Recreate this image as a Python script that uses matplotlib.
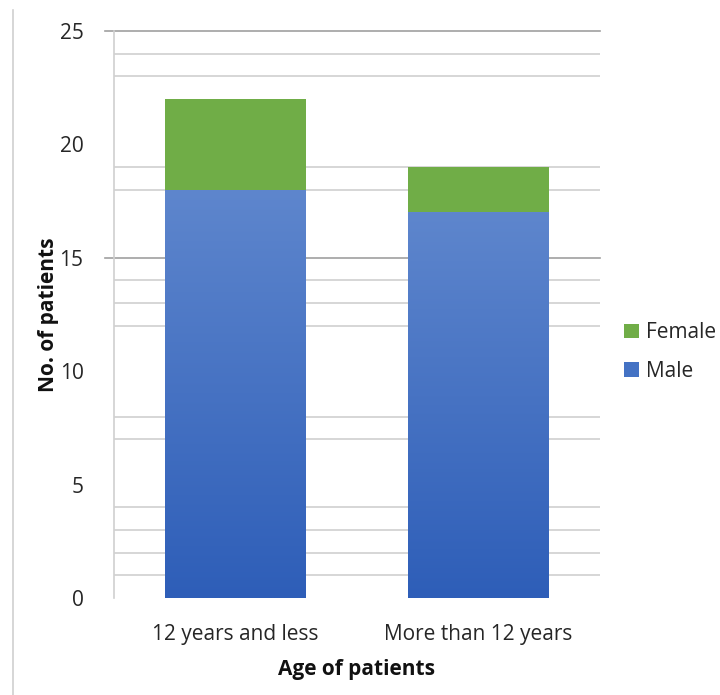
import matplotlib
matplotlib.use("Agg")
import matplotlib.pyplot as plt
import numpy as np
from matplotlib.lines import Line2D
from matplotlib.patches import Patch

categories = ["12 years and less", "More than 12 years"]
male = [18, 17]
female = [4, 2]
yticks = [0, 5, 10, 15, 20, 25]
minor_grid = [1, 2, 3, 4, 7, 8, 12, 13, 14, 18, 19, 23, 24]
major_grid = [15, 25]

plt.rcParams['font.family'] = ['Open Sans', 'DejaVu Sans']

fig = plt.figure(figsize=(7.2, 6.95), dpi=100)
ax = fig.add_axes([114/720, 1-598/695, (600-114)/720, (598-31)/695])

x = np.arange(len(categories))
width = 0.58
green = "#70AD47"
top_blue = np.array([0x5E, 0x86, 0xCD]) / 255
bot_blue = np.array([0x2E, 0x5E, 0xB8]) / 255

for v in minor_grid:
    ax.axhline(v, color="#D0D0D0", lw=1.2, zorder=0)
for v in major_grid:
    ax.plot([-0.018, 1], [v, v], transform=ax.get_yaxis_transform(),
            color="#A0A0A0", lw=1.2, zorder=0, clip_on=False)

bars_m = ax.bar(x, male, width, color="#4472C4", zorder=2, label="Male")
bars_f = ax.bar(x, female, width, bottom=male, color=green, zorder=2, label="Female")

# gradient fill for male bars
grad = np.linspace(0, 1, 256)[:, None]
cols = top_blue[None, :] * (1 - grad) + bot_blue[None, :] * grad
img = np.repeat(cols[:, None, :], 2, axis=1)
for b in bars_m:
    x0, y0 = b.get_x(), b.get_y()
    w, h = b.get_width(), b.get_height()
    im = ax.imshow(img, extent=[x0, x0 + w, y0, y0 + h], aspect="auto", zorder=3,
                   origin="upper")
    im.set_clip_path(b)

ax.set_xlim(-0.5, 1.5)
ax.set_ylim(0, 25)
ax.set_yticks(yticks)
ax.set_xticks(x)
ax.set_xticklabels(categories)
ax.tick_params(axis="y", length=0, pad=22, labelsize=15, labelcolor="#262626")
ax.tick_params(axis="x", length=0, pad=19, labelsize=15, labelcolor="#262626")

for s in ["top", "right", "bottom"]:
    ax.spines[s].set_visible(False)
ax.spines["left"].set_color("#D0D0D0")
ax.spines["left"].set_linewidth(1.2)

ax.set_ylabel("No. of patients", fontsize=15, fontweight="bold", labelpad=0, color="#111111")
ax.set_xlabel("Age of patients", fontsize=15, fontweight="bold", labelpad=10, color="#111111")

handles = [Patch(facecolor=green, label="Female"), Patch(facecolor="#4472C4", label="Male")]
fig.legend(handles=handles, loc="center left", bbox_to_anchor=(618/720, 1-352/695),
           frameon=False, fontsize=15, handlelength=0.7, handleheight=0.7,
           handletextpad=0.35, labelspacing=0.85, labelcolor="#262626",
           borderaxespad=0, borderpad=0.3)

fig.add_artist(Line2D([13/720, 13/720], [0, 1-10/695], transform=fig.transFigure,
                      color="#D0D0D0", lw=1.2))

fig.savefig("out.png", dpi=100)
